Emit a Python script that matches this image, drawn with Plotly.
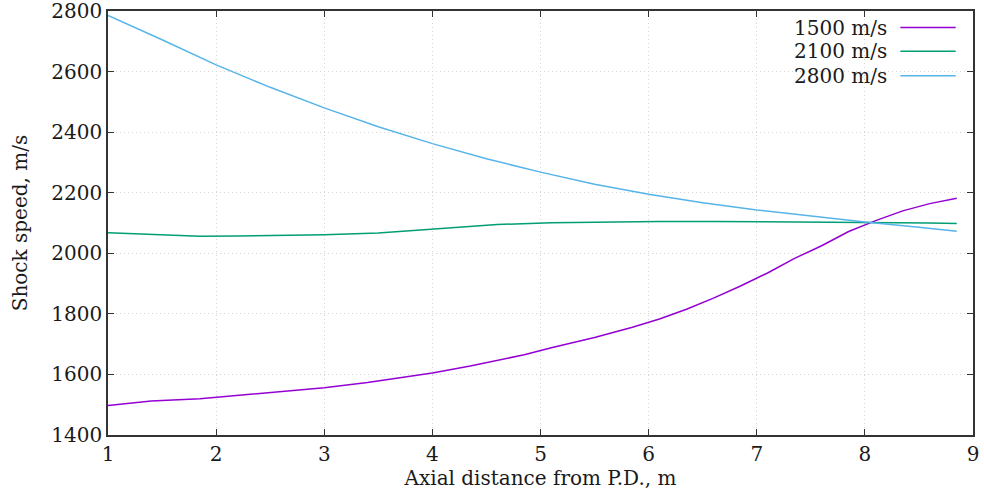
import plotly.graph_objects as go

x_1500 = [1.0, 1.4, 1.85, 2.2, 2.6, 3.0, 3.4, 3.8, 4.0, 4.35, 4.6, 4.85, 5.1, 5.5, 5.85, 6.1, 6.35,
          6.6, 6.85, 7.1, 7.35, 7.6, 7.85, 8.1, 8.35, 8.6, 8.85]
y_1500 = [1497, 1512, 1520, 1531, 1542, 1556, 1573, 1593, 1605, 1628, 1647, 1665, 1688, 1722, 1756,
          1783, 1815, 1852, 1892, 1935, 1983, 2025, 2072, 2108, 2140, 2164, 2182]

x_2100 = [1.0, 1.3, 1.6, 1.85, 2.2, 2.6, 3.0, 3.5, 4.0, 4.3, 4.6, 5.1, 5.6, 6.1, 6.6, 7.1, 7.6, 8.1, 8.6, 8.85]
y_2100 = [2068, 2063, 2058, 2056, 2057, 2058, 2061, 2067, 2079, 2087, 2095, 2101, 2104, 2105, 2105,
          2104, 2102, 2101, 2100, 2098]

x_2800 = [1.0, 1.5, 2.0, 2.5, 3.0, 3.5, 4.0, 4.5, 5.0, 5.5, 6.0, 6.5, 7.0, 7.5, 8.0, 8.5, 8.85]
y_2800 = [2785, 2705, 2622, 2548, 2480, 2418, 2362, 2312, 2268, 2228, 2195, 2167, 2143, 2122, 2103, 2086, 2073]

names = ["1500 m/s", "2100 m/s", "2800 m/s"]
colors = ["#9400d3", "#009e73", "#56b4e9"]

FONT = "DejaVu Serif"
TXT = "#1a1a1a"

fig = go.Figure()
for xs, ys, n, c in zip([x_1500, x_2100, x_2800], [y_1500, y_2100, y_2800], names, colors):
    fig.add_trace(go.Scatter(x=xs, y=ys, mode="lines", name=n,
                             line=dict(color=c, width=1.5), showlegend=False))

# legend drawn gnuplot-style: text right-aligned, sample line on its right
leg_y = [0.961, 0.905, 0.847]
for n, c, ly in zip(names, colors, leg_y):
    fig.add_annotation(x=0.903, y=ly, xref="paper", yref="paper", text=n, showarrow=False,
                       xanchor="right", yanchor="middle", font=dict(family=FONT, size=20, color=TXT))
    fig.add_shape(type="line", xref="paper", yref="paper", x0=0.916, x1=0.980, y0=ly, y1=ly,
                  line=dict(color=c, width=1.5))

axis_common = dict(showline=True, linecolor="#333", linewidth=1.5, mirror="allticks",
                   ticks="inside", ticklen=6, tickcolor="#333", tickwidth=1,
                   showgrid=True, gridcolor="#d4d4d4", griddash="1px,3px", gridwidth=1,
                   zeroline=False, automargin=False, ticklabeloverflow="allow",
                   tickfont=dict(family=FONT, size=20, color=TXT))

fig.update_xaxes(range=[1, 9], dtick=1, tick0=1,
                 title=dict(text="Axial distance from P.D., m", font=dict(family=FONT, size=20, color=TXT),
                            standoff=4),
                 **axis_common)
fig.update_yaxes(range=[1400, 2800], dtick=200,
                 title=dict(text="Shock speed, m/s", font=dict(family=FONT, size=20, color=TXT),
                            standoff=18),
                 **axis_common)

fig.update_layout(width=984, height=492, margin=dict(l=108, r=11, t=11, b=57),
                  plot_bgcolor="white", paper_bgcolor="white", showlegend=False)

fig.write_html("out.html")
